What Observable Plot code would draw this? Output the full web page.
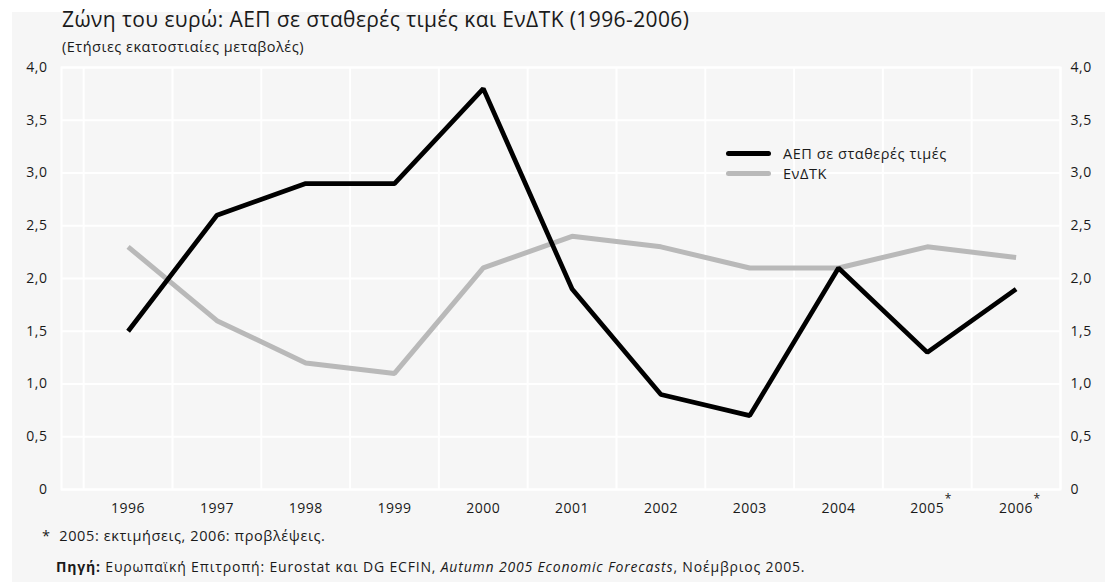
<!DOCTYPE html>
<html>
<head>
<meta charset="utf-8">
<script src="https://cdn.jsdelivr.net/npm/d3@7"></script>
<script src="https://cdn.jsdelivr.net/npm/@observablehq/plot@0.6"></script>
<style>
  html, body { margin: 0; padding: 0; background: #ffffff; width: 1105px; height: 582px; overflow: hidden; }
  body { font-family: "Open Sans", "Noto Sans", sans-serif; color: #1a1a1a; position: relative; }
  #panel { position: absolute; left: 12px; top: 12px; width: 1093px; height: 570px; background: #f6f6f6; }
  #title { position: absolute; left: 62px; top: 5px; font-size: 21px; letter-spacing: 0.4px; white-space: nowrap; }
  #subtitle { position: absolute; left: 62px; top: 37px; font-size: 14.5px; letter-spacing: 0.5px; white-space: nowrap; }
  #chart { position: absolute; left: 0; top: 55px; }
  #legend { position: absolute; left: 726px; top: 143px; font-size: 14.5px; letter-spacing: 0.55px; }
  .lg { display: flex; align-items: center; height: 20px; }
  .sw { width: 45px; height: 5px; border-radius: 3px; margin-right: 12px; }
  #note { position: absolute; left: 42px; top: 526px; font-size: 14.5px; letter-spacing: 0.6px; white-space: nowrap; }
  #source { position: absolute; left: 56px; top: 557px; font-size: 14px; letter-spacing: 0.82px; white-space: nowrap; }
  #chart text { letter-spacing: 0.5px; }
</style>
</head>
<body>
<div id="panel"></div>
<div id="title">Ζώνη του ευρώ: ΑΕΠ σε σταθερές τιμές και ΕνΔΤΚ (1996-2006)</div>
<div id="subtitle">(Ετήσιες εκατοστιαίες μεταβολές)</div>
<div id="chart"></div>
<div id="legend"></div>
<div id="note">*&nbsp;&nbsp;2005: εκτιμήσεις, 2006: προβλέψεις.</div>
<div id="source"><b>Πηγή:</b> Ευρωπαϊκή Επιτροπή: Eurostat και DG ECFIN, <i>Autumn 2005 Economic Forecasts</i>, Νοέμβριος 2005.</div>
<script>
// ---- data ----
const years = [1996, 1997, 1998, 1999, 2000, 2001, 2002, 2003, 2004, 2005, 2006];
const yearLabels = ["1996", "1997", "1998", "1999", "2000", "2001", "2002", "2003", "2004", "2005*", "2006*"];
const gdp = [1.5, 2.6, 2.9, 2.9, 3.8, 1.9, 0.9, 0.7, 2.1, 1.3, 1.9];
const hicp = [2.3, 1.6, 1.2, 1.1, 2.1, 2.4, 2.3, 2.1, 2.1, 2.3, 2.2];
const yTicks = [0, 0.5, 1, 1.5, 2, 2.5, 3, 3.5, 4];
const seriesNames = ["ΑΕΠ σε σταθερές τιμές", "ΕνΔΤΚ"];
const seriesColors = ["#000000", "#b9b9b9"];

const data = years.map((y, i) => ({year: y, gdp: gdp[i], hicp: hicp[i]}));
const labelOf = new Map(years.map((y, i) => [y, yearLabels[i].replace("*", "")]));
const starred = years.filter((y, i) => yearLabels[i].endsWith("*"));
const bounds = years.map(y => y - 0.5).concat([years[years.length - 1] + 0.5]);
const fmt = d => d === 0 ? "0" : d.toFixed(1).replace(".", ",");

const chart = Plot.plot({
  width: 1105,
  height: 469,
  marginLeft: 61,
  marginRight: 45,
  marginTop: 12,
  marginBottom: 35,
  style: {background: "transparent", fontFamily: "'Open Sans', 'Noto Sans', sans-serif", fontSize: "14px", color: "#1a1a1a"},
  x: {type: "linear", domain: [1995.25, 2006.5], label: null},
  y: {domain: [0, 4], label: null},
  marks: [
    Plot.ruleY(yTicks, {stroke: "#ffffff", strokeWidth: 2}),
    Plot.ruleX(bounds, {stroke: "#ffffff", strokeWidth: 2}),
    Plot.frame({stroke: "#ffffff", strokeWidth: 2}),
    Plot.line(data, {x: "year", y: "hicp", stroke: seriesColors[1], strokeWidth: 5, strokeLinejoin: "miter", strokeLinecap: "butt"}),
    Plot.line(data, {x: "year", y: "gdp", stroke: seriesColors[0], strokeWidth: 4.7, strokeLinejoin: "miter", strokeLinecap: "butt"}),
    Plot.axisY(yTicks, {anchor: "left", tickSize: 0, tickPadding: 14, tickFormat: fmt, label: null}),
    Plot.axisY(yTicks, {anchor: "right", tickSize: 0, tickPadding: 10, tickFormat: fmt, label: null}),
    Plot.axisX(years, {anchor: "bottom", tickSize: 0, tickPadding: 14, tickFormat: d => labelOf.get(d), label: null}),
    Plot.text(starred, {x: d => d, frameAnchor: "bottom", text: () => "*", dx: 21, dy: 13, fontSize: 12, fill: "#1a1a1a"})
  ]
});
document.getElementById("chart").appendChild(chart);

const legend = document.getElementById("legend");
seriesNames.forEach((name, i) => {
  const row = document.createElement("div");
  row.className = "lg";
  const sw = document.createElement("div");
  sw.className = "sw";
  sw.style.background = seriesColors[i];
  const tx = document.createElement("span");
  tx.textContent = name;
  row.appendChild(sw);
  row.appendChild(tx);
  legend.appendChild(row);
});
</script>
</body>
</html>
